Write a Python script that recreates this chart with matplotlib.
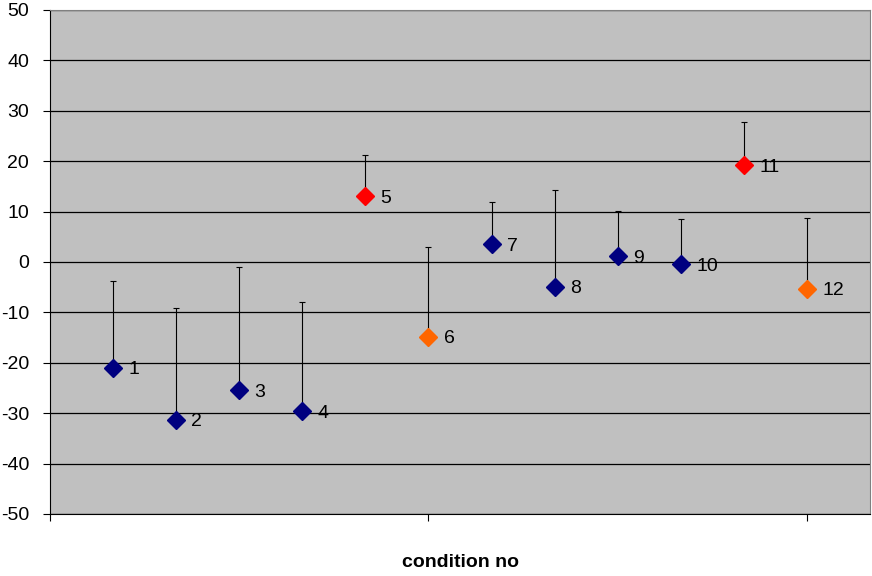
import numpy as np
import matplotlib.pyplot as plt

plt.rcParams['font.family'] = ['Liberation Sans', 'DejaVu Sans']
plt.rcParams['axes.unicode_minus'] = False

# condition numbers, mean values and the upper error of each
conditions = [1, 2, 3, 4, 5, 6, 7, 8, 9, 10, 11, 12]
values = [-21.0, -31.3, -25.4, -29.6, 13.1, -14.8, 3.5, -4.9, 1.1, -0.4, 19.2, -5.3]
upper_err = [17.2, 22.1, 24.4, 21.6, 8.1, 17.8, 8.4, 19.2, 9.1, 9.0, 8.6, 14.0]
groups = ['blue', 'blue', 'blue', 'blue', 'red', 'orange',
          'blue', 'blue', 'blue', 'blue', 'red', 'orange']

colors = {'blue': '#000080', 'red': '#FF0000', 'orange': '#FF6600'}

fig = plt.figure(figsize=(8.72, 5.76), dpi=100)
ax = fig.add_axes([50/872, 62/576, 820/872, 504/576])
ax.set_facecolor('#C0C0C0')

x = np.array(conditions)
y = np.array(values)
err = np.array([np.zeros(len(upper_err)), upper_err])

ax.errorbar(x, y, yerr=err, fmt='none', ecolor='black', elinewidth=0.8,
            capsize=2.5, capthick=0.8, zorder=2)

for xi, yi, g in zip(x, y, groups):
    ax.plot(xi, yi, marker='D', ms=9, color=colors[g], mec=colors[g], zorder=3)
    ax.annotate(str(xi), (xi, yi), xytext=(11, -1.5), textcoords='offset points',
                va='center', ha='left', fontsize=14)

ax.set_xlim(0, 13)
ax.set_ylim(-50, 50)
ax.set_yticks(range(-50, 51, 10))
ax.set_xticks([0, 6, 12])
ax.set_xticklabels([])
ax.yaxis.grid(True, color='black', lw=0.9)
ax.set_axisbelow(True)
ax.tick_params(axis='both', direction='out', length=5, width=0.8, labelsize=14)
ax.tick_params(axis='y', pad=10)

for s in ['top', 'right']:
    ax.spines[s].set_color('#808080')
ax.spines['left'].set_color('black')
ax.spines['bottom'].set_color('black')

ax.set_xlabel('condition no', fontsize=14, fontweight='bold', labelpad=20)

fig.savefig('out.png', dpi=100)
